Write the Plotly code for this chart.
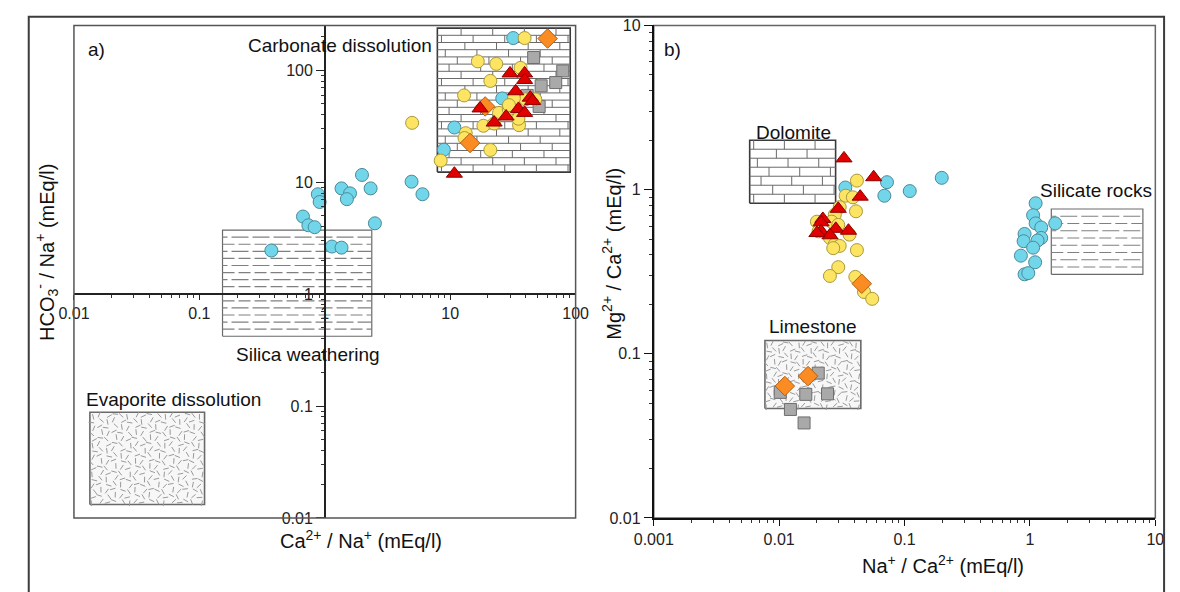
import math
import plotly.graph_objects as go

W, H = 1180, 592
FONT = "Liberation Sans, Arial, sans-serif"

# ---------------- data: panel a (Ca/Na vs HCO3/Na) ----------------
a_cyan_x = [31.8, 26.0, 10.8, 8.9, 1.98, 2.32, 1.36, 1.59, 1.50, 4.92, 6.01, 0.88, 0.91, 0.67, 0.74, 0.83, 2.51, 0.375, 1.14, 1.36]
a_cyan_y = [194, 56, 30.8, 19.5, 11.6, 8.8, 8.8, 7.95, 7.05, 10.1, 7.8, 7.8, 6.65, 4.93, 4.12, 3.96, 4.29, 2.45, 2.66, 2.60]
a_yel_x = [39.2, 16.6, 23.3, 36.4, 20.9, 12.9, 39.9, 47.7, 32.2, 24.5, 29.3, 18.4, 22.4, 35.4, 35.0, 13.3, 13.0, 20.9, 8.4, 29.4, 4.97]
a_yel_y = [194, 120, 114, 105, 80.3, 59.6, 55, 55, 56, 41.6, 45, 31.9, 33.4, 32.3, 36.9, 27.4, 24.8, 19.4, 15.6, 48.8, 33.9]
a_red_x = [30, 39.2, 39.2, 33.3, 43.5, 45.4, 17.3, 35, 39.2, 27.9, 22.4, 10.8]
a_red_y = [93.6, 93.6, 81.9, 64.9, 56.9, 53.2, 45.6, 45.1, 41.6, 38.6, 34.1, 11.9]
a_ora_x = [59.8, 19.0, 14.4]
a_ora_y = [192, 47.5, 22.4]
a_gry_x = [46.3, 79, 69.4, 53.1, 41.1, 51.2]
a_gry_y = [130, 98.6, 77.6, 72.6, 59.6, 47.5]

# ---------------- data: panel b (Na/Ca vs Mg/Ca) ----------------
b_cyan_x = [0.198, 0.110, 0.0724, 0.069, 0.0337, 1.11, 1.06, 1.11, 1.23, 1.59, 0.906, 1.23, 1.15, 0.89, 1.06, 0.847, 1.10, 0.906, 0.97]
b_cyan_y = [1.18, 0.98, 1.11, 0.918, 1.03, 0.826, 0.698, 0.623, 0.588, 0.623, 0.537, 0.508, 0.49, 0.485, 0.443, 0.396, 0.361, 0.305, 0.31]
b_yel_x = [0.0417, 0.0339, 0.0387, 0.0304, 0.041, 0.0278, 0.020, 0.0262, 0.0296, 0.0206, 0.0364, 0.0254, 0.0278, 0.0304, 0.027, 0.0417, 0.0296, 0.0254, 0.0405, 0.0475, 0.0552]
b_yel_y = [1.135, 0.918, 0.898, 0.782, 0.738, 0.704, 0.638, 0.638, 0.610, 0.557, 0.532, 0.508, 0.464, 0.454, 0.44, 0.428, 0.337, 0.298, 0.294, 0.238, 0.216]
b_red_x = [0.0329, 0.0567, 0.0443, 0.0296, 0.0223, 0.0216, 0.0283, 0.0357, 0.0216, 0.0254, 0.020]
b_red_y = [1.55, 1.19, 0.906, 0.764, 0.663, 0.632, 0.577, 0.562, 0.557, 0.527, 0.544]
b_ora_x = [0.0456, 0.0111, 0.0170]
b_ora_y = [0.267, 0.0636, 0.0731]
b_gry_x = [0.0102, 0.0205, 0.0163, 0.0243, 0.0123, 0.0158]
b_gry_y = [0.0582, 0.0762, 0.0566, 0.057, 0.0458, 0.0379]

# ---------------- region boxes (x0, x1, y0, y1) in data units ----------------
box_carbonate = [7.9, 90.6, 12.3, 238]
box_silica = [0.153, 2.37, 0.42, 3.73]
box_evaporite = [0.0134, 0.11, 0.0132, 0.088]
box_dolomite = [0.00582, 0.0282, 0.826, 2.0]
box_silicate = [1.48, 7.96, 0.305, 0.762]
box_limestone = [0.0077, 0.0448, 0.0464, 0.1205]

x_ticks_a = [0.01, 0.1, 1, 10, 100]
x_ticks_b = [0.001, 0.01, 0.1, 1, 10]
y_ticks_a = [0.01, 0.1, 1, 10, 100]
y_ticks_b = [0.01, 0.1, 1, 10]


def fx(px):
    return px / W


def fy(py):
    return 1 - py / H


fig = go.Figure()


def outline(box, xa, ya, fill, lc, lw):
    x0, x1, y0, y1 = box
    fig.add_trace(go.Scatter(x=[x0, x1, x1, x0, x0], y=[y0, y0, y1, y1, y0], mode="lines",
                             fill="toself", fillcolor=fill, line=dict(color=lc, width=lw),
                             xaxis=xa, yaxis=ya, hoverinfo="skip", showlegend=False))


def bricks(box, xa, ya, nrows, nbricks):
    x0, x1, y0, y1 = box
    lx0, lx1, ly0, ly1 = map(math.log10, box)
    rh = (ly1 - ly0) / nrows
    bw = (lx1 - lx0) / nbricks
    xs, ys = [], []
    for r in range(1, nrows):
        yy = 10 ** (ly0 + r * rh)
        xs += [x0, x1, None]
        ys += [yy, yy, None]
    for r in range(nrows):
        ya0 = 10 ** (ly0 + r * rh)
        ya1 = 10 ** (ly0 + (r + 1) * rh)
        off = (0.25 + 0.5 * (r % 2) + 0.12 * ((r * 7) % 3 - 1)) * bw
        lx = lx0 + off
        while lx < lx1 - 0.02 * bw:
            xx = 10 ** lx
            xs += [xx, xx, None]
            ys += [ya0, ya1, None]
            lx += bw
    fig.add_trace(go.Scatter(x=xs, y=ys, mode="lines", line=dict(color="#6a6a6a", width=1),
                             xaxis=xa, yaxis=ya, hoverinfo="skip", showlegend=False))


def dashes(box, xa, ya, nlines):
    x0, x1, y0, y1 = box
    ly0, ly1 = math.log10(y0), math.log10(y1)
    step = (ly1 - ly0) / (nlines + 1)
    for i in range(1, nlines + 1):
        yy = 10 ** (ly0 + i * step)
        dash = "12px,4px" if i % 2 else "5px,4px,12px,0px"
        fig.add_trace(go.Scatter(x=[x0, x1], y=[yy, yy], mode="lines",
                                 line=dict(color="#808080", width=1.2, dash=dash),
                                 xaxis=xa, yaxis=ya, hoverinfo="skip", showlegend=False))


def speckle(box, xa, ya, ncol, nrow):
    x0, x1, y0, y1 = box
    lx0, lx1, ly0, ly1 = map(math.log10, box)
    dx = (lx1 - lx0) / ncol
    dy = (ly1 - ly0) / nrow
    xs, ys, ang = [], [], []
    for i in range(ncol):
        for j in range(nrow):
            jx = ((i * 5 + j * 3) % 7) / 7.0 - 0.5
            jy = ((i * 3 + j * 5) % 5) / 5.0 - 0.5
            xs.append(10 ** (lx0 + (i + 0.5 + 0.6 * jx) * dx))
            ys.append(10 ** (ly0 + (j + 0.5 + 0.6 * jy) * dy))
            ang.append((i * 37 + j * 71) % 180)
    fig.add_trace(go.Scatter(x=xs, y=ys, mode="markers",
                             marker=dict(symbol="line-ns", size=4, angle=ang,
                                         line=dict(color="#9a9a9a", width=1)),
                             xaxis=xa, yaxis=ya, hoverinfo="skip", showlegend=False))


# panel a regions
outline(box_carbonate, "x", "y", "white", "#3a3a3a", 1.6)
bricks(box_carbonate, "x", "y", 20, 4.2)
outline(box_silica, "x", "y", "white", "#6a6a6a", 1.2)
dashes(box_silica, "x", "y", 14)
outline(box_evaporite, "x", "y", "#f7f7f7", "#6a6a6a", 1.6)
speckle(box_evaporite, "x", "y", 16, 16)

# panel b regions
outline(box_dolomite, "x2", "y2", "white", "#3a3a3a", 1.6)
bricks(box_dolomite, "x2", "y2", 7, 2.8)
outline(box_silicate, "x2", "y2", "white", "#6a6a6a", 1.2)
dashes(box_silicate, "x2", "y2", 8)
outline(box_limestone, "x2", "y2", "#f7f7f7", "#6a6a6a", 1.6)
speckle(box_limestone, "x2", "y2", 16, 11)

styles = [
    ("cyan", dict(symbol="circle", size=13, color="#72d6ea", line=dict(color="#4a8a99", width=1))),
    ("gray", dict(symbol="square", size=12, color="#a9a9a9", line=dict(color="#6e6e6e", width=1))),
    ("yellow", dict(symbol="circle", size=13, color="#fde462", line=dict(color="#a89a3a", width=1))),
    ("orange", dict(symbol="diamond", size=15, color="#fb8c23", line=dict(color="#b35f10", width=1))),
    ("red", dict(symbol="triangle-up", size=14, color="#e10000", line=dict(color="#8a0000", width=1))),
]
series_a = {"cyan": (a_cyan_x, a_cyan_y), "gray": (a_gry_x, a_gry_y), "yellow": (a_yel_x, a_yel_y),
            "orange": (a_ora_x, a_ora_y), "red": (a_red_x, a_red_y)}
series_b = {"cyan": (b_cyan_x, b_cyan_y), "gray": (b_gry_x, b_gry_y), "yellow": (b_yel_x, b_yel_y),
            "orange": (b_ora_x, b_ora_y), "red": (b_red_x, b_red_y)}
for name, mk in styles:
    xs, ys = series_a[name]
    fig.add_trace(go.Scatter(x=xs, y=ys, mode="markers", marker=mk, xaxis="x", yaxis="y", showlegend=False))
    xs, ys = series_b[name]
    fig.add_trace(go.Scatter(x=xs, y=ys, mode="markers", marker=mk, xaxis="x2", yaxis="y2", showlegend=False))

tickfont = dict(family=FONT, size=16, color="#222")
minor = dict(ticks="outside", ticklen=3, tickcolor="#333", dtick="D1", showgrid=False)

dom_ya = [fy(525), fy(18)]
fig.update_layout(
    width=W, height=H, autosize=False,
    margin=dict(l=0, r=0, t=0, b=0),
    paper_bgcolor="white", plot_bgcolor="rgba(0,0,0,0)",
    font=dict(family=FONT, color="#222"),
    showlegend=False,
    xaxis=dict(type="log", range=[-2, 2], domain=[fx(55.5), fx(571.6)], anchor="free", position=fy(294.6),
               tickmode="array", tickvals=x_ticks_a, ticktext=[str(v) for v in x_ticks_a],
               showline=True, linecolor="#222", linewidth=1.5, ticks="outside", ticklen=5, tickcolor="#222",
               minor=minor, showgrid=False, zeroline=False, tickfont=tickfont),
    yaxis=dict(type="log", range=[-2, 2.4], domain=dom_ya, anchor="free", position=fx(313.55),
               tickmode="array", tickvals=y_ticks_a, ticktext=[str(v) for v in y_ticks_a],
               showline=True, linecolor="#222", linewidth=1.5, ticks="outside", ticklen=8, tickcolor="#222",
               minor=minor, showgrid=False, zeroline=False, tickfont=tickfont),
    xaxis2=dict(type="log", range=[-3, 1], domain=[fx(652), fx(1168)], anchor="y2",
                tickmode="array", tickvals=x_ticks_b, ticktext=[str(v) for v in x_ticks_b],
                showline=True, linecolor="#111", linewidth=2, ticks="outside", ticklen=6, tickcolor="#111",
                minor=minor, showgrid=False, zeroline=False, tickfont=tickfont),
    yaxis2=dict(type="log", range=[-2, 1], domain=dom_ya, anchor="x2",
                tickmode="array", tickvals=y_ticks_b, ticktext=[str(v) for v in y_ticks_b],
                showline=True, linecolor="#111", linewidth=2, ticks="outside", ticklen=8, tickcolor="#111",
                minor=minor, showgrid=False, zeroline=False, tickfont=tickfont),
)

# frames
fig.add_shape(type="rect", xref="x domain", yref="y domain", x0=0, x1=1, y0=0, y1=1,
              line=dict(color="#555", width=1.5), layer="above")
fig.add_shape(type="rect", xref="x2 domain", yref="y2 domain", x0=0, x1=1, y0=0, y1=1,
              line=dict(color="#666", width=1.5), layer="below")
fig.add_shape(type="rect", xref="paper", yref="paper", x0=fx(9), x1=fx(1177), y0=-0.1, y1=fy(9),
              line=dict(color="#3c3c3c", width=2))

lab = dict(family=FONT, size=19, color="#111")
ttl = dict(family=FONT, size=20, color="#111")


def ann(text, x, y, xanchor="center", font=lab, angle=0):
    fig.add_annotation(text=text, x=fx(x), y=fy(y), xref="paper", yref="paper", xanchor=xanchor,
                       yanchor="middle", showarrow=False, font=font, textangle=angle)


ann("a)", 68, 43, "left")
ann("b)", 660, 43, "left")
ann("Carbonate dissolution", 426, 39, "right")
ann("Silica weathering", 296, 357)
ann("Evaporite dissolution", 66, 403, "left")
ann("Dolomite", 796, 128)
ann("Silicate rocks", 1107, 188)
ann("Limestone", 816, 328)
ann("Ca<sup>2+</sup> / Na<sup>+</sup> (mEq/l)", 351, 547, font=ttl)
ann("Na<sup>+</sup> / Ca<sup>2+</sup> (mEq/l)", 950, 573, font=ttl)
ann("HCO<sub>3</sub><sup>-</sup> / Na<sup>+</sup> (mEq/l)", 28, 252, font=ttl, angle=-90)
ann("Mg<sup>2+</sup> / Ca<sup>2+</sup> (mEq/l)", 609, 253, font=ttl, angle=-90)

fig.write_html("out.html")
